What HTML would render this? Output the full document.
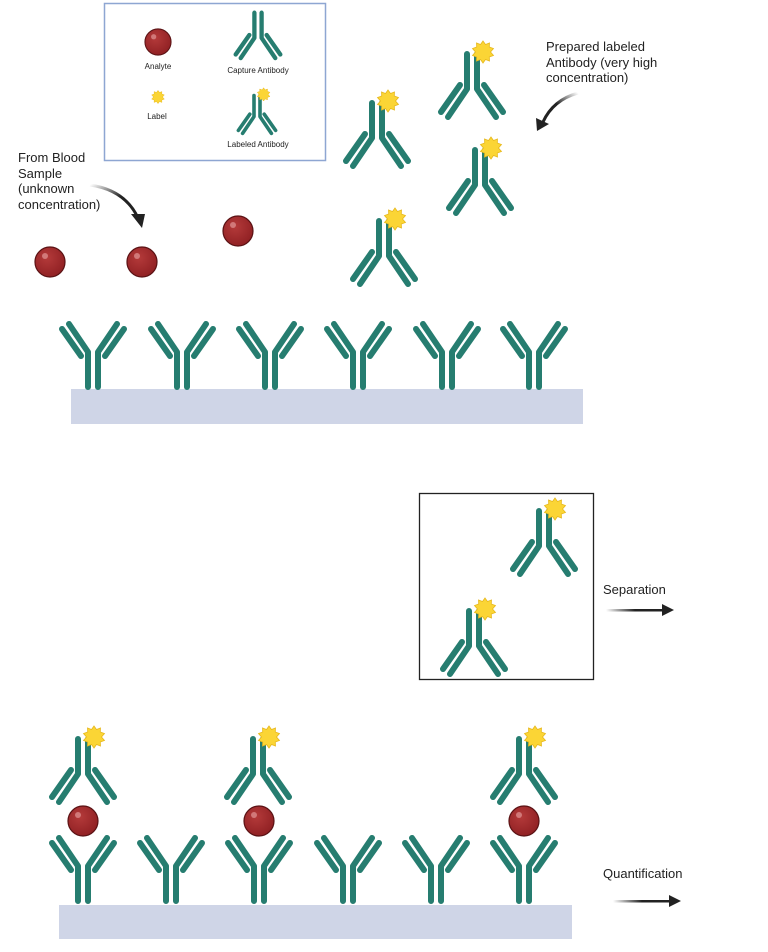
<!DOCTYPE html>
<html><head><meta charset="utf-8"><style>
html,body{margin:0;padding:0;background:#fff;}
svg{display:block;}
text{font-family:"Liberation Sans",sans-serif;fill:#222;}
</style></head><body>
<svg width="768" height="952" viewBox="0 0 768 952" xmlns="http://www.w3.org/2000/svg">
<defs>
 <g id="ab" fill="none" stroke="#267d70" stroke-width="6" stroke-linecap="round" stroke-linejoin="round">
  <path d="M-5,-1 V-36 L-24,-64"/>
  <path d="M5,-1 V-36 L24,-64"/>
  <path d="M-12,-32 L-31,-59"/>
  <path d="M12,-32 L31,-59"/>
 </g>
 <g id="star">
  <polygon fill="#fbd535" stroke="#e7b81e" stroke-width="0.8" points="0,-11 2.5,-7.5 6.5,-9 6.3,-5 10.5,-3.5 7.5,0 10.5,3.5 6.3,5 6.5,9 2.5,7.5 0,11 -2.5,7.5 -6.5,9 -6.3,5 -10.5,3.5 -7.5,0 -10.5,-3.5 -6.3,-5 -6.5,-9 -2.5,-7.5"/>
 </g>
 <g id="lab">
  <use href="#ab" transform="scale(1,-1)"/>
  <use href="#star" x="11" y="-1"/>
 </g>
 <radialGradient id="rg" cx="0.4" cy="0.35" r="0.7">
  <stop offset="0" stop-color="#b43a3a"/><stop offset="1" stop-color="#8e1f22"/>
 </radialGradient>
 <g id="an">
  <circle r="15" fill="url(#rg)" stroke="#5a1214" stroke-width="1.2"/>
  <circle cx="-5" cy="-6" r="3" fill="#d98a8a" opacity="0.8"/>
 </g>
 <linearGradient id="ag" x1="0" x2="1" y1="0" y2="0">
  <stop offset="0" stop-color="#222" stop-opacity="0"/><stop offset="0.5" stop-color="#222"/><stop offset="1" stop-color="#222"/>
 </linearGradient>
 <linearGradient id="cg1" x1="0" y1="0" x2="1" y2="1">
  <stop offset="0" stop-color="#222" stop-opacity="0"/><stop offset="0.5" stop-color="#222"/><stop offset="1" stop-color="#222"/>
 </linearGradient>
 <linearGradient id="cg2" x1="1" y1="0" x2="0" y2="1">
  <stop offset="0" stop-color="#222" stop-opacity="0"/><stop offset="0.5" stop-color="#222"/><stop offset="1" stop-color="#222"/>
 </linearGradient>
</defs>

<!-- Legend -->
<rect x="104.5" y="3.5" width="221" height="157" fill="#fff" stroke="#8ea6d2" stroke-width="1.5"/>
<use href="#an" transform="translate(158,42) scale(0.87)"/>
<text x="158" y="69" font-size="8" text-anchor="middle">Analyte</text>
<use href="#ab" transform="translate(258,12) scale(0.72,-0.72)"/>
<text x="258" y="73" font-size="8" text-anchor="middle">Capture Antibody</text>
<use href="#star" transform="translate(158,97) scale(0.6)"/>
<text x="157" y="119" font-size="8" text-anchor="middle">Label</text>
<use href="#lab" transform="translate(257,95) scale(0.6)"/>
<text x="258" y="147" font-size="8" text-anchor="middle">Labeled Antibody</text>

<!-- texts -->
<text font-size="13"><tspan x="18" y="162">From Blood</tspan><tspan x="18" y="178">Sample</tspan><tspan x="18" y="193">(unknown</tspan><tspan x="18" y="209">concentration)</tspan></text>
<text font-size="13"><tspan x="546" y="51">Prepared labeled</tspan><tspan x="546" y="67">Antibody (very high</tspan><tspan x="546" y="82">concentration)</tspan></text>
<text x="603" y="594" font-size="13">Separation</text>
<text x="603" y="878" font-size="13">Quantification</text>

<!-- curved arrows -->
<path d="M90,185 Q125,190 138,218" fill="none" stroke="url(#cg1)" stroke-width="3"/>
<polygon points="131,214 145,214 142,228" fill="#222"/>
<path d="M578,93 Q553,100 543,122" fill="none" stroke="url(#cg2)" stroke-width="3"/>
<polygon points="536,118 549,124 537,131" fill="#222"/>

<!-- straight arrows -->
<rect x="606" y="609" width="58" height="2.5" fill="url(#ag)"/>
<polygon points="662,604 674,610 662,616" fill="#222"/>
<rect x="613" y="900" width="58" height="2.5" fill="url(#ag)"/>
<polygon points="669,895 681,901 669,907" fill="#222"/>

<!-- analytes top -->
<use href="#an" x="50" y="262"/>
<use href="#an" x="142" y="262"/>
<use href="#an" x="238" y="231"/>

<!-- floating labeled antibodies -->
<use href="#lab" x="377" y="102"/>
<use href="#lab" x="472" y="53"/>
<use href="#lab" x="480" y="149"/>
<use href="#lab" x="384" y="220"/>

<!-- top platform -->
<rect x="71" y="389" width="512" height="35" fill="#cfd5e7"/>
<use href="#ab" x="93" y="388"/>
<use href="#ab" x="182" y="388"/>
<use href="#ab" x="270" y="388"/>
<use href="#ab" x="358" y="388"/>
<use href="#ab" x="447" y="388"/>
<use href="#ab" x="534" y="388"/>

<!-- separation box -->
<rect x="419.5" y="493.5" width="174" height="186" fill="none" stroke="#222" stroke-width="1.3"/>
<use href="#lab" x="544" y="510"/>
<use href="#lab" x="474" y="610"/>

<!-- bottom -->
<rect x="59" y="905" width="513" height="34" fill="#cfd5e7"/>
<use href="#ab" x="83" y="902"/>
<use href="#ab" x="171" y="902"/>
<use href="#ab" x="259" y="902"/>
<use href="#ab" x="348" y="902"/>
<use href="#ab" x="436" y="902"/>
<use href="#ab" x="524" y="902"/>
<use href="#an" x="83" y="821"/>
<use href="#an" x="259" y="821"/>
<use href="#an" x="524" y="821"/>
<use href="#lab" x="83" y="738"/>
<use href="#lab" x="258" y="738"/>
<use href="#lab" x="524" y="738"/>
</svg>
</body></html>
